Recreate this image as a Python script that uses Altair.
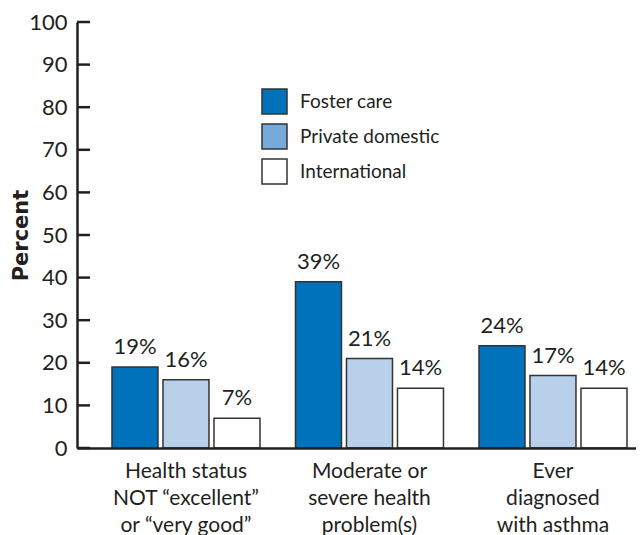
import altair as alt
import pandas as pd

# ---- data ----
categories = [
    "Health status|NOT “excellent”|or “very good”",
    "Moderate or|severe health|problem(s)",
    "Ever|diagnosed|with asthma",
]
series = ["Foster care", "Private domestic", "International"]
foster = [19, 39, 24]
private_domestic = [16, 21, 17]
international = [7, 14, 14]
y_ticks = [0, 10, 20, 30, 40, 50, 60, 70, 80, 90, 100]

bar_colors = ["#0072BC", "#B9D0EA", "#FFFFFF"]
legend_colors = ["#0072BC", "#77AADB", "#FFFFFF"]

rows = []
for s, vals in zip(series, [foster, private_domestic, international]):
    for c, v in zip(categories, vals):
        rows.append({"category": c, "series": s, "legend_series": s,
                     "value": v, "label": f"{v}%"})
df = pd.DataFrame(rows)
ticks_df = pd.DataFrame({"value": y_ticks})

FONT = "Lato"
INK = "#231F20"
EDGE = "#333333"

x_enc = alt.X(
    "category:N",
    sort=categories,
    scale=alt.Scale(paddingInner=0.1935, paddingOuter=0.1199, align=0.795),
    axis=alt.Axis(
        title=None,
        labelExpr="split(datum.label, '|')",
        labelAngle=0,
        labelFont=FONT,
        labelFontSize=21,
        labelColor=INK,
        labelPadding=12,
        labelLineHeight=27,
        labelBaseline="top",
        tickSize=0,
        domainColor=INK,
        domainWidth=2.5,
        zindex=1,
    ),
)
xoff_enc = alt.XOffset(
    "series:N", sort=series, scale=alt.Scale(paddingInner=0.098, paddingOuter=0)
)
y_enc = alt.Y(
    "value:Q",
    scale=alt.Scale(domain=[0, 100], nice=False),
    axis=alt.Axis(
        values=y_ticks,
        title="Percent",
        titleFont="DejaVu Sans",
        titleFontSize=21,
        titleFontWeight="bold",
        titleColor=INK,
        titleAngle=270,
        titleX=-50,
        titleY=213,
        titleAlign="center",
        titleBaseline="alphabetic",
        labelFont=FONT,
        labelFontSize=22,
        labelColor=INK,
        labelPadding=10,
        tickSize=0,
        domainColor=INK,
        domainWidth=2.5,
        grid=False,
        zindex=1,
    ),
)

# hidden carriers of the legend (drawn first, covered by the bars)
legend_layer = alt.Chart(df).mark_square(
    filled=True, opacity=1, stroke=EDGE, strokeWidth=1.5, yOffset=14
).encode(
    x=x_enc,
    xOffset=xoff_enc,
    y=y_enc,
    color=alt.Color(
        "legend_series:N",
        sort=series,
        scale=alt.Scale(domain=series, range=legend_colors),
        legend=alt.Legend(
            title=None,
            orient="none",
            legendX=184,
            legendY=66,
            symbolType="square",
            symbolSize=625,
            symbolStrokeColor=EDGE,
            symbolStrokeWidth=1.5,
            symbolOpacity=1,
            labelFont=FONT,
            labelFontSize=19,
            labelColor=INK,
            labelOffset=12,
            rowPadding=4,
            padding=0,
        ),
    ),
)

bars = alt.Chart(df).mark_bar(stroke=EDGE, strokeWidth=1.5).encode(
    x=x_enc,
    xOffset=xoff_enc,
    y=y_enc,
    fill=alt.Fill(
        "series:N", sort=series,
        scale=alt.Scale(domain=series, range=bar_colors), legend=None
    ),
)

labels = alt.Chart(df).mark_text(
    baseline="alphabetic", dy=-13, fontSize=22, font=FONT, color=INK
).encode(x=x_enc, xOffset=xoff_enc, y=y_enc, text="label:N")

ticks = alt.Chart(ticks_df).mark_rule(color=INK, strokeWidth=2.5).encode(
    y=y_enc, x=alt.value(0), x2=alt.value(13)
)

chart = (
    alt.layer(legend_layer, bars, labels, ticks)
    .properties(
        width=559,
        height=426,
        autosize=alt.AutoSizeParams(type="none"),
        padding={"left": 69, "top": 14, "right": 0, "bottom": 87},
        background="white",
    )
    .configure_view(stroke=None)
)

chart.save("out.html", embed_options={"renderer": "svg", "actions": False})
